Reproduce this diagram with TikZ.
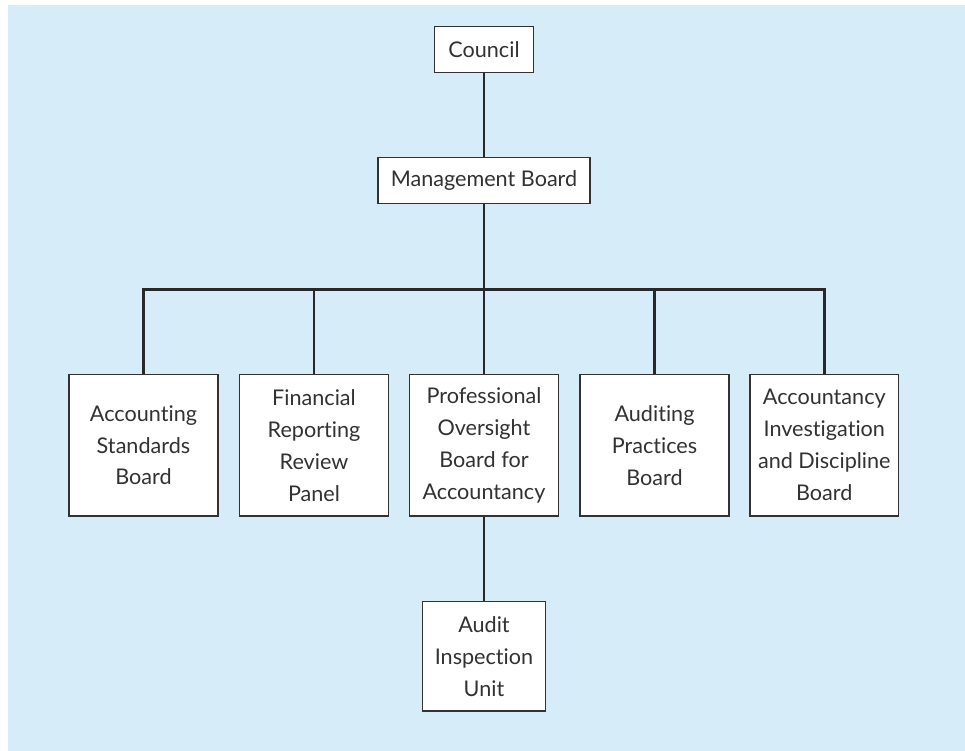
\documentclass[tikz,border=0pt]{standalone}
\usepackage{fontspec}
\setmainfont{Lato}[Ligatures={NoCommon}]
\usepackage{tikz}
\definecolor{panelblue}{RGB}{214,236,249}
\definecolor{inkgray}{RGB}{50,50,50}
\tikzset{
  unit/.style={draw=inkgray, line width=0.8pt, fill=white, inner sep=0pt,
    align=center, text=inkgray, font=\fontsize{12.3}{18.2}\selectfont},
  link/.style={draw=inkgray!80!black, line width=1.5pt}
}
\begin{document}
\begin{tikzpicture}[x=0.02cm, y=-0.02cm]
            % Panel
            \useasboundingbox (0,0) rectangle (965,751);
            \fill[panelblue] (8,5) rectangle (965,751);
            % Top of the chart
            \node[unit, minimum width=1.98cm, minimum height=0.92cm] (council) at (484,49.3) {Council};
            \node[unit, minimum width=4.24cm, minimum height=0.93cm] (mgmt) at (484,180.5) {Management Board};
            \coordinate (bar) at (484,289.3);
            % Boards
            \node[unit, minimum width=2.98cm, minimum height=2.83cm] (asb) at (143.5,445.2) {Accounting\\Standards\\Board};
            \node[unit, minimum width=2.98cm, minimum height=2.83cm] (frrp) at (314,445.2) {Financial\\Reporting\\Review\\Panel};
            \node[unit, minimum width=2.98cm, minimum height=2.83cm] (pob) at (484,445.2) {Professional\\Oversight\\Board for\\Accountancy};
            \node[unit, minimum width=2.98cm, minimum height=2.83cm] (apb) at (654.5,445.2) {Auditing\\Practices\\Board};
            \node[unit, minimum width=2.98cm, minimum height=2.83cm] (aidb) at (824.3,445.2) {Accountancy\\Investigation\\and Discipline\\Board};
            \node[unit, minimum width=2.45cm, minimum height=2.19cm] (aiu) at (484,656.4) {Audit\\Inspection\\Unit};
            % Connectors
            \draw[link] (council) -- (mgmt);
            \draw[link] (mgmt) -- (bar);
            \draw[link] (asb.north) |- (bar) -| (aidb.north);
            \foreach \n in {frrp,pob,apb}
              \draw[link] (bar -| \n.north) -- (\n.north);
            \draw[link] (pob) -- (aiu);
        \end{tikzpicture}
\end{document}
